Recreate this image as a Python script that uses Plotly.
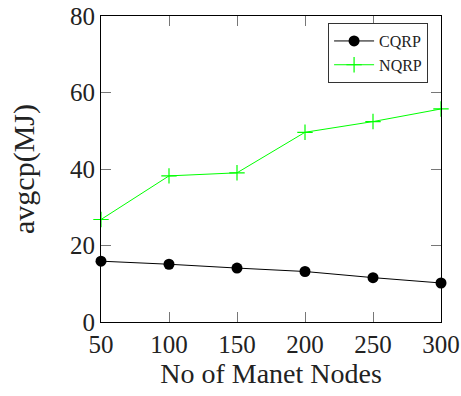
import plotly.graph_objects as go

nodes = [50, 100, 150, 200, 250, 300]
cqrp = [15.9, 15.1, 14.1, 13.2, 11.6, 10.2]
nqrp = [26.8, 38.2, 39.0, 49.6, 52.4, 55.7]
x_ticks = [50, 100, 150, 200, 250, 300]
y_ticks = [0, 20, 40, 60, 80]

FONT = "Liberation Serif"

fig = go.Figure()
fig.add_trace(go.Scatter(
    x=nodes, y=cqrp, name="CQRP", mode="lines+markers",
    line=dict(color="black", width=1),
    marker=dict(symbol="circle", size=11, color="black"),
    cliponaxis=False,
))
fig.add_trace(go.Scatter(
    x=nodes, y=nqrp, name="NQRP", mode="lines+markers",
    line=dict(color="#00ff00", width=1),
    marker=dict(symbol="cross-thin", size=11, color="#00ff00",
                line=dict(color="#00ff00", width=1.2)),
    cliponaxis=False,
))

axis_common = dict(
    showgrid=False, zeroline=False, showline=True, linecolor="black",
    linewidth=1, mirror="ticks", ticks="inside", ticklen=10,
    tickcolor="#777777", tickwidth=1, automargin=False,
    ticklabeloverflow="allow",
    tickfont=dict(family=FONT, size=25, color="#222222"),
)

fig.update_layout(
    width=461, height=396,
    margin=dict(l=101, r=20, t=16, b=74),
    paper_bgcolor="white", plot_bgcolor="white",
    xaxis=dict(range=[50, 300], tickvals=x_ticks,
               title=dict(text="No of Manet Nodes", standoff=6,
                          font=dict(family=FONT, size=28, color="#222222")),
               **axis_common),
    yaxis=dict(range=[0, 80], tickvals=y_ticks,
               title=dict(text="avgcp(MJ)", standoff=26,
                          font=dict(family=FONT, size=30, color="#222222")),
               **axis_common),
    legend=dict(x=0.962, y=0.977, xanchor="right", yanchor="top",
                bordercolor="#333333", borderwidth=1, bgcolor="white",
                font=dict(family=FONT, size=16, color="#222222"),
                tracegroupgap=0, itemwidth=40),
    showlegend=True,
)

fig.write_html(
    "out.html",
    config={"displayModeBar": False},
    post_script="document.body.style.margin='0';document.body.style.overflow='hidden';",
)
